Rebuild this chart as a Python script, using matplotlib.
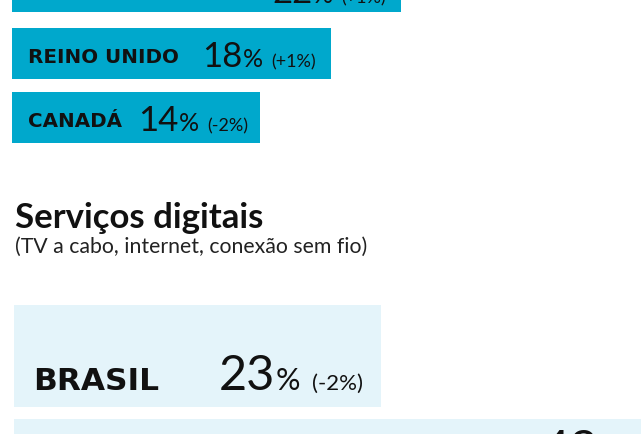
import matplotlib
matplotlib.use("Agg")
import matplotlib.pyplot as plt

# top section (cut off at the top of the crop)
top_countries = ["", "REINO UNIDO", "CANADÁ"]
top_values = [22, 18, 14]
top_deltas = ["(+1%)", "(+1%)", "(-2%)"]

# Serviços digitais
dig_countries = ["BRASIL", ""]
dig_values = [23, 43]
dig_deltas = ["(-2%)", ""]

DARK = "#00a8cc"
LIGHT = "#e4f4fa"
INK = "#111111"

fig = plt.figure(figsize=(6.41, 4.35), dpi=100)
fig.patch.set_facecolor("white")

# bars, each section on its own percent scale
ax_top = fig.add_axes([12 / 641, 0, 629 / 641, 1])
ax_top.set_xlim(0, 629 / 17.7)
ax_top.set_ylim(435, 0)
ax_top.barh([-12.5, 54.5, 118.5], top_values, height=51, color=DARK)
ax_top.axis("off")

ax_dig = fig.add_axes([14 / 641, 0, 627 / 641, 1])
ax_dig.set_xlim(0, 627 / 15.96)
ax_dig.set_ylim(435, 0)
ax_dig.barh([357, 471], dig_values, height=102, color=LIGHT)
ax_dig.axis("off")

# text layer in pixel coordinates
ax = fig.add_axes([0, 0, 1, 1])
ax.set_xlim(0, 641)
ax.set_ylim(435, 0)
ax.axis("off")
ax.patch.set_alpha(0)

renderer = fig.canvas.get_renderer()


def value_text(x, y, value, delta, sizes, gaps):
    t = ax.text(x, y, str(value), fontsize=sizes[0], family="Lato",
                color=INK, va="baseline")
    x1 = t.get_window_extent(renderer).x1
    p = ax.text(x1 + gaps[0], y, "%", fontsize=sizes[1], family="Lato",
                color=INK, va="baseline")
    x2 = p.get_window_extent(renderer).x1
    if delta:
        ax.text(x2 + gaps[1], y, delta, fontsize=sizes[2], family="Lato",
                color=INK, va="baseline")


# top section labels
label_x = 28
top_base = [3, 67, 131]
top_num_x = [272, 202, 138]
for name, val, d, yb, nx in zip(top_countries, top_values, top_deltas, top_base, top_num_x):
    if name:
        ax.text(label_x, yb - 4, name, fontsize=14.3, fontweight="bold",
                family="DejaVu Sans", color=INK, va="baseline")
    value_text(nx, yb, val, d, (25, 18, 13), (1, 8))

# heading
ax.text(15, 228, "Serviços digitais", fontsize=25, fontweight="bold",
        family="Lato", color=INK, va="baseline")
ax.text(15, 253, "(TV a cabo, internet, conexão sem fio)", fontsize=15.3,
        family="Lato", color="#222222", va="baseline")

# digital services rows
dig_base = [390, 465]
dig_num_x = [219, 541]
for name, val, d, yb, nx in zip(dig_countries, dig_values, dig_deltas, dig_base, dig_num_x):
    if name:
        ax.text(33, yb, name, fontsize=22.5, fontweight="bold",
                family="DejaVu Sans", color=INK, va="baseline")
    value_text(nx, yb, val, d, (35, 22, 16), (0, 12))

fig.savefig("out.png", dpi=100, facecolor="white")
